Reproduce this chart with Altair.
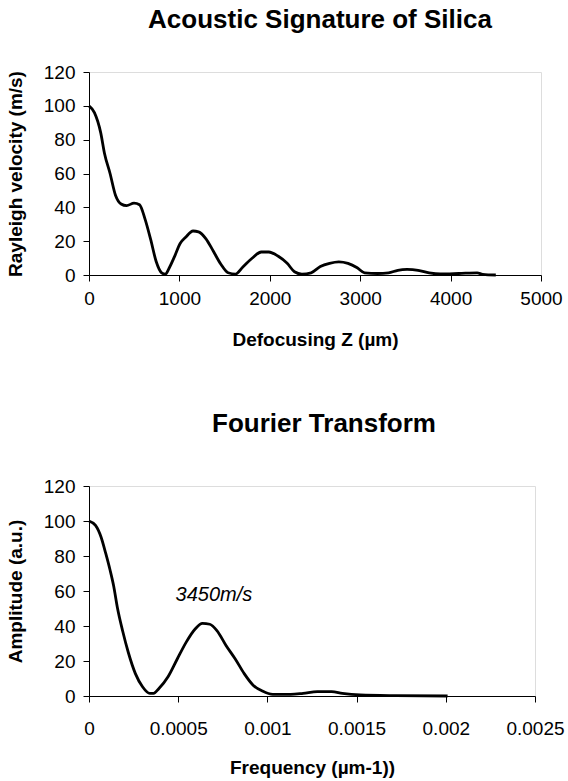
import altair as alt
import pandas as pd

# Top chart: acoustic signature (Defocusing Z in µm, Rayleigh velocity)
z_um = [0, 60, 130, 171, 233, 294, 355, 416, 498, 559, 620, 682, 743, 804, 845, 886,
        947, 1008, 1069, 1151, 1212, 1294, 1376, 1457, 1539, 1620, 1702, 1804, 1906,
        1988, 2090, 2192, 2273, 2355, 2457, 2559, 2661, 2763, 2865, 2967, 3049, 3192,
        3314, 3416, 3518, 3641, 3763, 3886, 4090, 4294, 4355, 4500]
velocity = [100, 96, 84, 72, 60, 47, 42, 41, 42.5, 41.5, 33, 21, 8, 1.3, 0.5, 4,
            11, 18.6, 22.3, 26, 25.5, 21.4, 14, 6.5, 1.3, 0.5, 4.7, 9.9, 13.6,
            13.6, 11.2, 6.9, 1.9, 0.5, 1.3, 5, 6.9, 7.8, 6.9, 4.3, 1.3, 0.9,
            1.3, 2.8, 3.3, 2.8, 1.3, 0.6, 0.9, 1.3, 0.4, 0]

# Bottom chart: Fourier transform
freq = [0, 0.0000366, 0.000067, 0.0000935, 0.000118, 0.000138, 0.000159, 0.000189,
        0.00022, 0.00026, 0.0003, 0.000341, 0.000362, 0.000392, 0.000443, 0.000494,
        0.000545, 0.000595, 0.000636, 0.000677, 0.000717, 0.000768, 0.000819,
        0.00087, 0.00092, 0.000972, 0.00103, 0.00113, 0.0012, 0.00128, 0.00136,
        0.00142, 0.00152, 0.00172, 0.00201]
amplitude = [100, 97.5, 91, 81.6, 72, 63, 50.6, 37, 25, 12.8, 5.3, 1.5, 1.5, 4.3,
             11, 21, 30.8, 38.3, 41.5, 41, 37.4, 28.9, 21.3, 12.8, 6.2, 2.8, 0.9,
             0.9, 1.5, 2.5, 2.5, 1.5, 0.6, 0.2, 0]

label_text = ["3450m/s"]
label_x = [0.0007]
label_y = [58]

top_titles = ("Acoustic Signature of Silica", "Defocusing Z (µm)", "Rayleigh velocity (m/s)")
bot_titles = ("Fourier Transform", "Frequency (µm-1))", "Amplitude (a.u.)")
top_xticks = [0, 1000, 2000, 3000, 4000, 5000]
bot_xticks = [0, 0.0005, 0.001, 0.0015, 0.002, 0.0025]
yticks = [0, 20, 40, 60, 80, 100, 120]

df_top = pd.DataFrame({"z": z_um, "v": velocity})
df_bot = pd.DataFrame({"f": freq, "a": amplitude})
df_lab = pd.DataFrame({"t": label_text, "x": label_x, "y": label_y})

FONT = "Liberation Sans"


def axis_style(**kw):
    base = dict(grid=False, tickSize=6, labelPadding=8, titlePadding=14,
                labelFontSize=19, titleFontSize=19, labelFont=FONT, titleFont=FONT,
                titleFontWeight="bold", domainColor="black", tickColor="black",
                labelColor="black", titleColor="black", labelOverlap=False,
                labelFlush=False)
    base.update(kw)
    return base


top = alt.Chart(df_top).mark_line(color="black", strokeWidth=2.8, interpolate="monotone").encode(
    x=alt.X("z:Q", scale=alt.Scale(domain=[0, 5000], nice=False),
            axis=alt.Axis(title=top_titles[1], values=top_xticks, format="d",
                          **axis_style(titlePadding=22))),
    y=alt.Y("v:Q", scale=alt.Scale(domain=[0, 120], nice=False),
            axis=alt.Axis(title=top_titles[2], values=yticks, format="d",
                          **axis_style(titlePadding=18))),
).properties(width=452, height=203,
             title=alt.TitleParams(top_titles[0], fontSize=26, font=FONT, fontWeight="bold",
                                   anchor="middle", offset=30, dx=5, color="black"))

bx_axis = alt.Axis(title=bot_titles[1], values=bot_xticks, format="~g",
                   **axis_style(labelPadding=17, titlePadding=20))
by_axis = alt.Axis(title=bot_titles[2], values=yticks, format="d", **axis_style(titlePadding=18))
bx_scale = alt.Scale(domain=[0, 0.0025], nice=False)
by_scale = alt.Scale(domain=[0, 120], nice=False)

bot_line = alt.Chart(df_bot).mark_line(color="black", strokeWidth=2.8, interpolate="monotone").encode(
    x=alt.X("f:Q", scale=bx_scale, axis=bx_axis),
    y=alt.Y("a:Q", scale=by_scale, axis=by_axis),
)
bot_text = alt.Chart(df_lab).mark_text(font=FONT, fontSize=20, fontStyle="italic", color="black",
                                       align="center", baseline="middle").encode(
    x=alt.X("x:Q", scale=bx_scale, axis=bx_axis),
    y=alt.Y("y:Q", scale=by_scale, axis=by_axis),
    text="t:N")
bottom = alt.layer(bot_line, bot_text).properties(
    width=446, height=210,
    title=alt.TitleParams(bot_titles[0], fontSize=26, font=FONT, fontWeight="bold",
                          anchor="middle", offset=40, dx=12, color="black"))

chart = alt.vconcat(top, bottom, spacing=60).configure_view(
    stroke="#8a8a8a", strokeWidth=1
).configure(padding={"left": 5, "top": 6, "right": 0, "bottom": 5}, background="white")

chart.save("out.html", embed_options={"renderer": "svg", "actions": False})
